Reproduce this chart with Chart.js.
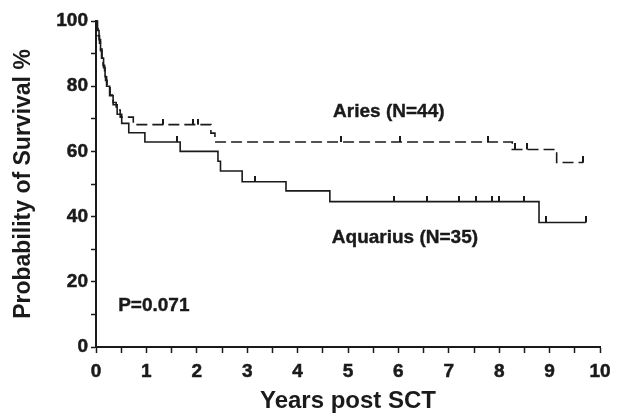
<!DOCTYPE html>
<html>
<head>
<meta charset="utf-8">
<script src="https://cdn.jsdelivr.net/npm/chart.js@4"></script>
<style>
  html, body { margin: 0; padding: 0; background: #fff; }
  canvas { display: block; }
</style>
</head>
<body>
<canvas id="kmChart" width="622" height="420"></canvas>
<script>
// Kaplan-Meier steps: time (years) and survival (%) after each event
const ariesTimes = [0, 0.02, 0.04, 0.07, 0.09, 0.11, 0.14, 0.17, 0.19, 0.22, 0.28, 0.34, 0.40, 0.48, 0.74, 2.28, 2.36, 8.26, 9.14, 9.67];
const ariesSurv  = [100, 97.7, 95.5, 93.2, 90.9, 88.6, 86.4, 84.1, 81.8, 79.5, 77.3, 75.0, 72.7, 70.5, 68.2, 65.6, 62.9, 60.6, 56.6, 56.6];
const ariesCensor = [1.32, 1.93, 2.03, 4.86, 6.03, 7.78, 8.31, 8.55, 9.67];

const aquariusTimes = [0, 0.03, 0.06, 0.09, 0.12, 0.15, 0.18, 0.21, 0.27, 0.34, 0.42, 0.51, 0.65, 0.97, 1.67, 2.42, 2.47, 2.90, 3.77, 4.64, 8.79, 9.72];
const aquariusSurv  = [100, 97.1, 94.3, 91.4, 88.6, 85.7, 82.9, 80.0, 77.1, 74.3, 71.4, 68.6, 65.7, 62.9, 60.0, 57.0, 54.0, 50.7, 47.9, 44.6, 38.2, 38.2];
const aquariusCensor = [1.61, 3.15, 5.91, 6.57, 7.20, 7.53, 7.86, 8.00, 8.50, 8.93, 9.72];

const groupLabels = ['Aries (N=44)', 'Aquarius (N=35)'];
const pValueText = 'P=0.071';

const FONT = "'Liberation Sans', Arial, Helvetica, sans-serif";
const INK = '#1a1a1a';

function toPoints(times, surv) {
    return times.map((t, i) => ({ x: t, y: surv[i] }));
}

function survAt(times, surv, t) {
    let s = surv[0];
    for (let i = 0; i < times.length; i++) {
        if (times[i] <= t) s = surv[i];
    }
    return s;
}

function censorPoints(times, surv, censor) {
    return censor.map(t => ({ x: t, y: survAt(times, surv, t) }));
}

// small upward tick used as censor mark
const tickMark = document.createElement('canvas');
tickMark.width = 2;
tickMark.height = 12;
(function () {
    const c = tickMark.getContext('2d');
    c.fillStyle = INK;
    c.fillRect(0, 0, 2, 6);
})();

const textPlugin = {
    id: 'kmText',
    afterDatasetsDraw(chart) {
        const { ctx, scales: { x, y } } = chart;
        ctx.save();
        ctx.fillStyle = INK;
        ctx.strokeStyle = INK;
        ctx.lineWidth = 0.4;
        ctx.font = 'bold 19px ' + FONT;
        ctx.textAlign = 'center';
        ctx.textBaseline = 'middle';
        const put = (txt, px, py) => {
            ctx.fillText(txt, px, py);
            ctx.strokeText(txt, px, py);
        };
        put(groupLabels[0], x.getPixelForValue(5.81), y.getPixelForValue(72.2));
        put(groupLabels[1], x.getPixelForValue(6.13), y.getPixelForValue(33.4));
        ctx.textAlign = 'left';
        put(pValueText, x.getPixelForValue(0.44), y.getPixelForValue(12.6));
        ctx.restore();
    }
};

const ctx = document.getElementById('kmChart').getContext('2d');
const kmChart = new Chart(ctx, {
    type: 'scatter',
    data: {
        datasets: [
            {
                label: 'Aries',
                data: toPoints(ariesTimes, ariesSurv),
                showLine: true,
                stepped: 'before',
                borderColor: INK,
                borderWidth: 1.6,
                borderDash: [11, 5],
                pointRadius: 0,
                clip: false,
            },
            {
                label: 'Aquarius',
                data: toPoints(aquariusTimes, aquariusSurv),
                showLine: true,
                stepped: 'before',
                borderColor: INK,
                borderWidth: 1.6,
                pointRadius: 0,
                clip: false,
            },
            {
                label: 'Aries censored',
                data: censorPoints(ariesTimes, ariesSurv, ariesCensor),
                pointStyle: tickMark,
                clip: false,
            },
            {
                label: 'Aquarius censored',
                data: censorPoints(aquariusTimes, aquariusSurv, aquariusCensor),
                pointStyle: tickMark,
                clip: false,
            },
        ],
    },
    options: {
        responsive: false,
        animation: false,
        layout: { padding: { left: 0, top: 21, right: 22, bottom: 0 } },
        plugins: {
            legend: { display: false },
            tooltip: { enabled: false },
        },
        scales: {
            x: {
                type: 'linear',
                min: 0,
                max: 10,
                afterFit: (scale) => { scale.height = 73; },
                border: { color: INK, width: 2 },
                grid: { drawOnChartArea: false, tickLength: 6, tickColor: INK, tickWidth: 1.5 },
                ticks: {
                    stepSize: 0.5,
                    autoSkip: false,
                    maxRotation: 0,
                    padding: 7,
                    color: INK,
                    textStrokeColor: INK,
                    textStrokeWidth: 0.5,
                    font: { family: FONT, size: 19, weight: 'bold' },
                    callback: (v) => (Number.isInteger(v) ? String(v) : ''),
                },
                title: {
                    display: true,
                    text: 'Years post SCT',
                    color: INK,
                    font: { family: FONT, size: 24, weight: 'bold' },
                    padding: { top: 4, bottom: 4 },
                },
            },
            y: {
                min: 0,
                max: 100,
                afterFit: (scale) => { scale.width = 96; },
                border: { color: INK, width: 2 },
                grid: { drawOnChartArea: false, tickLength: 5, tickColor: INK, tickWidth: 1.5 },
                ticks: {
                    stepSize: 10,
                    autoSkip: false,
                    padding: 3,
                    color: INK,
                    textStrokeColor: INK,
                    textStrokeWidth: 0.5,
                    font: { family: FONT, size: 19, weight: 'bold' },
                    callback: (v) => (v % 20 === 0 ? String(v) : ''),
                },
                title: {
                    display: true,
                    text: 'Probability of Survival %',
                    color: INK,
                    font: { family: FONT, size: 23, weight: 'bold' },
                    padding: { top: 10, bottom: 4 },
                },
            },
        },
    },
    plugins: [textPlugin],
});
</script>
</body>
</html>
